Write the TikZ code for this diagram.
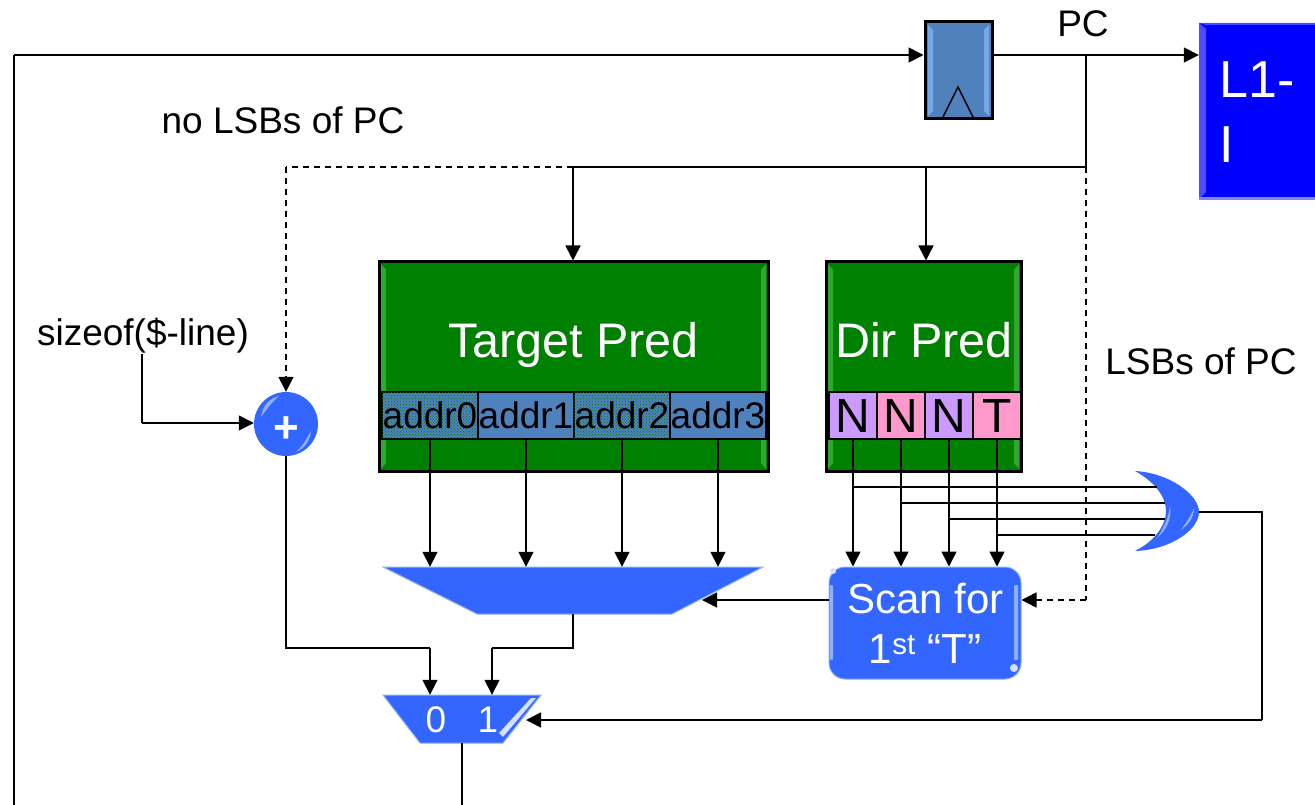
\documentclass[tikz,border=0pt]{standalone}
\usepackage{xcolor}
\usepackage{fontspec}
\setmainfont{Liberation Sans}
\usetikzlibrary{arrows.meta}
\usetikzlibrary{patterns}
\definecolor{regblue}{HTML}{4F81BD}
\definecolor{regglow}{HTML}{74A9E8}
\definecolor{muxblue}{HTML}{3366FF}
\definecolor{muxglow}{HTML}{8FB0FF}
\definecolor{predgreen}{HTML}{008000}
\definecolor{predglow}{HTML}{2FA82F}
\definecolor{cachblue}{HTML}{0000FF}
\definecolor{cachglow}{HTML}{4D4DFF}
\definecolor{nbit}{HTML}{CC99FF}
\definecolor{tbit}{HTML}{FF99CC}
\tikzstyle{arrow} = [line width=1.5pt,-{Triangle[length=15pt,width=15pt]}]
\tikzstyle{dasharrow} = [arrow,dash pattern=on 6pt off 5pt]
\tikzstyle{wire} = [line width=1.5pt]
\tikzstyle{dashwire} = [wire,dash pattern=on 6pt off 5pt]
\tikzstyle{sidetext} = [inner sep=0pt,font=\fontsize{37}{44}\selectfont]
\tikzstyle{pred} = [draw=black,line width=3pt,fill=predgreen,inner sep=0pt]
\tikzstyle{predname} = [inner sep=0pt,anchor=base,text=white,font=\fontsize{48.5}{56}\selectfont]
\tikzstyle{addr} = [draw=black,line width=1.5pt,fill=regblue,inner sep=0pt,minimum width=96pt,minimum height=47pt,font=\fontsize{37}{44}\selectfont]
\tikzstyle{dirbit} = [draw=black,line width=1.5pt,inner sep=0pt,minimum width=48pt,minimum height=47pt,font=\fontsize{48}{52}\selectfont]
\tikzstyle{muxbox} = [inner sep=0pt]
\tikzstyle{muxshape} = [fill=muxblue,draw=muxglow,line width=1pt]

\begin{document}
\begin{tikzpicture}[x=1pt,y=-1pt]

\useasboundingbox (0,0) rectangle (1315,805);

% pc register and cache
\node[draw=black,line width=3pt,fill=regblue,inner sep=0pt,minimum width=67pt,minimum height=97pt] (pcreg) at (958.5,70.5) {};
\fill[regglow] (928,25) -- (933,30) -- (933,111) -- (928,116) -- cycle;
\fill[regglow] (989,25) -- (984,30) -- (984,111) -- (989,116) -- cycle;
\draw[wire] (942,119) -- (958,87) -- (974,119);
\node[fill=cachblue,inner sep=0pt,minimum width=116pt,minimum height=176pt] (cache) at (1257,111) {};
\fill[cachglow] (1199,23) -- (1206,29) -- (1206,192) -- (1199,199) -- cycle;
\fill[cachglow] (1199,23) -- (1315,23) -- (1315,25) -- (1206,25) -- cycle;
\fill[cachglow!70!white] (1199,197) rectangle (1315,200);
\node[inner sep=0pt,text=white,align=left,anchor=west,font=\fontsize{52}{65}\selectfont] (cachename) at (1219,112) {L1-\\I};

\node[sidetext] (pclabel) at (1083,24) {PC};
\node[sidetext] (nolsb) at (283,120) {no LSBs of PC};
\node[sidetext] (lsb) at (1201,361) {LSBs of PC};
\node[sidetext] (size) at (143,336) {sizeof(\$-line)};

% predictors
\node[pred,minimum width=389pt,minimum height=209pt] (tpred) at (573.5,366.5) {};
\node[pred,minimum width=195pt,minimum height=209pt] (dpred) at (923.5,366.5) {};
\fill[predglow] (381,264) -- (386,270) -- (386,463) -- (381,469) -- cycle;
\fill[predglow] (766,264) -- (761,270) -- (761,463) -- (766,469) -- cycle;
\fill[predglow] (828,264) -- (833,270) -- (833,463) -- (828,469) -- cycle;
\fill[predglow] (1019,264) -- (1014,270) -- (1014,463) -- (1019,469) -- cycle;
\node[predname] (tname) at (573.5,357) {Target Pred};
\node[predname] (dname) at (924,357) {Dir Pred};

\node[addr,postaction={pattern=crosshatch dots,pattern color=predgreen}] (addr0) at (430,415.5) {};
\node[addr] (addr1) at (526,415.5) {addr1};
\node[addr,postaction={pattern=crosshatch dots,pattern color=predgreen}] (addr2) at (622,415.5) {};
\node[addr] (addr3) at (718,415.5) {addr3};
\node[font=\fontsize{37}{44}\selectfont,inner sep=0pt] at (addr0) {addr0};
\node[font=\fontsize{37}{44}\selectfont,inner sep=0pt] at (addr2) {addr2};

\node[dirbit,fill=nbit] (bit0) at (853,415.5) {N};
\node[dirbit,fill=tbit] (bit1) at (901,415.5) {N};
\node[dirbit,fill=nbit] (bit2) at (949,415.5) {N};
\node[dirbit,fill=tbit] (bit3) at (997,415.5) {T};

% adder
\node[circle,fill=muxblue,inner sep=0pt,minimum size=64pt] (adder) at (286,424) {};
\fill[muxglow] (261,417) .. controls (262,406) and (270,398) .. (279,396) .. controls (272,402) and (266,410) .. (261,417) -- cycle;
\fill[muxglow] (311,431) .. controls (310,441) and (304,449) .. (296,452) .. controls (303,446) and (307,438) .. (311,431) -- cycle;
\node[inner sep=0pt,text=white,font=\bfseries\fontsize{44}{44}\selectfont] (plus) at (286,430) {+};

% muxes
\draw[muxshape] (383,567) -- (763,567) -- (672,614) -- (477,614) -- cycle;
\node[muxbox,minimum width=380pt,minimum height=47pt] (tmux) at (573,590.5) {};
\draw[muxshape] (383,695) -- (541,695) -- (503,743) -- (420,743) -- cycle;
\node[muxbox,minimum width=158pt,minimum height=48pt] (omux) at (462,719) {};
\fill[white!80!muxblue] (499,733) -- (531,698) -- (536,698) -- (503,737) -- cycle;
\node[inner sep=0pt,text=white,font=\fontsize{37}{44}\selectfont] (zero) at (436,720) {0};
\node[inner sep=0pt,text=white,font=\fontsize{37}{44}\selectfont] (one) at (488,720) {1};

% scan and or
\node[rectangle,rounded corners=16pt,fill=muxblue,draw=muxglow,line width=1pt,inner sep=0pt,minimum width=192pt,minimum height=112pt,text=white,align=center,font=\fontsize{42}{50}\selectfont] (scan) at (925,623) {\hspace{1pt}Scan for\\1\textsuperscript{st} “T”};
\fill[muxglow,rounded corners=1pt] (830,585) rectangle (833,660);
\fill[muxglow,rounded corners=1pt] (1014,585) rectangle (1018,660);
\fill[white!80!muxblue] (833,571) circle (3);
\fill[white!80!muxblue] (1014,668) circle (4);

\fill[muxblue] (1135,471) .. controls (1170,473) and (1199,495) .. (1199,512) .. controls (1199,530) and (1170,550) .. (1135,551) .. controls (1155,541) and (1166,525) .. (1166,511) .. controls (1166,497) and (1155,482) .. (1135,471) -- cycle;
\fill[muxglow] (1170,505) .. controls (1172,520) and (1166,530) .. (1158,537) .. controls (1163,528) and (1169,518) .. (1170,505) -- cycle;
\fill[muxglow] (1194,508) .. controls (1194,518) and (1188,525) .. (1181,530) .. controls (1186,523) and (1191,516) .. (1194,508) -- cycle;

\coordinate (orin0) at (1157,487);
\coordinate (orin1) at (1165,503);
\coordinate (orin2) at (1165,519);
\coordinate (orin3) at (1155,535);
\coordinate (orout) at (1199,512);
\coordinate (pcfork) at (1086,55);
\coordinate (pcjoin) at (1086,167);
\coordinate (lsbturn) at (1086,600);
\coordinate (tjoin) at (573,167);
\coordinate (djoin) at (926,167);
\coordinate (addturn) at (286,167);
\coordinate (sizeturn) at (142,423);
\coordinate (backstart) at (462,805);
\coordinate (backend) at (14,805);
\coordinate (backturn) at (14,55);
\coordinate (orturn) at (1262,512);
\coordinate (omuxin) at (526,720);
\coordinate (tmuxin) at (702,600);
\coordinate (midleft) at (430,648);
\coordinate (midright) at (492,648);

% wires
\draw[arrow] (pcreg.east |- pcfork) -- (cache.west |- pcfork);
\draw[wire] (pcfork) -- (pcjoin);
\draw[wire] (pcjoin) -- (tjoin);
\draw[arrow] (tjoin) -- (tpred.north -| tjoin);
\draw[arrow] (djoin) -- (dpred.north -| djoin);
\draw[dashwire] (tjoin) -- (addturn);
\draw[dasharrow] (addturn) -- (adder.north);
\draw[dashwire] (pcjoin) -- (lsbturn);
\draw[dasharrow] (lsbturn) -- (scan.east |- lsbturn);
\draw[wire] (size.south -| sizeturn) -- (sizeturn);
\draw[arrow] (sizeturn) -- (adder.west |- sizeturn);

\foreach \n in {0,1,2,3}
  \draw[arrow] (addr\n.south) -- (addr\n.south |- tmux.north);
\foreach \n in {0,1,2,3}
  \draw[arrow] (bit\n.south) -- (bit\n.south |- scan.north);
\foreach \n in {0,1,2,3}
  \draw[wire] (bit\n.south |- orin\n) -- (orin\n);

\draw[arrow] (scan.west |- tmuxin) -- (tmuxin);
\draw[wire] (adder.south) -- (adder.south |- midleft) -- (midleft);
\draw[arrow] (midleft) -- (midleft |- omux.north);
\draw[wire] (tmux.south) -- (tmux.south |- midright) -- (midright);
\draw[arrow] (midright) -- (midright |- omux.north);
\draw[wire] (orout) -- (orturn) -- (orturn |- omuxin);
\draw[arrow] (orturn |- omuxin) -- (omuxin);
\draw[wire] (omux.south) -- (backstart);
\draw[wire] (backend) -- (backturn);
\draw[arrow] (backturn) -- (pcreg.west |- backturn);

\end{tikzpicture}
\end{document}
